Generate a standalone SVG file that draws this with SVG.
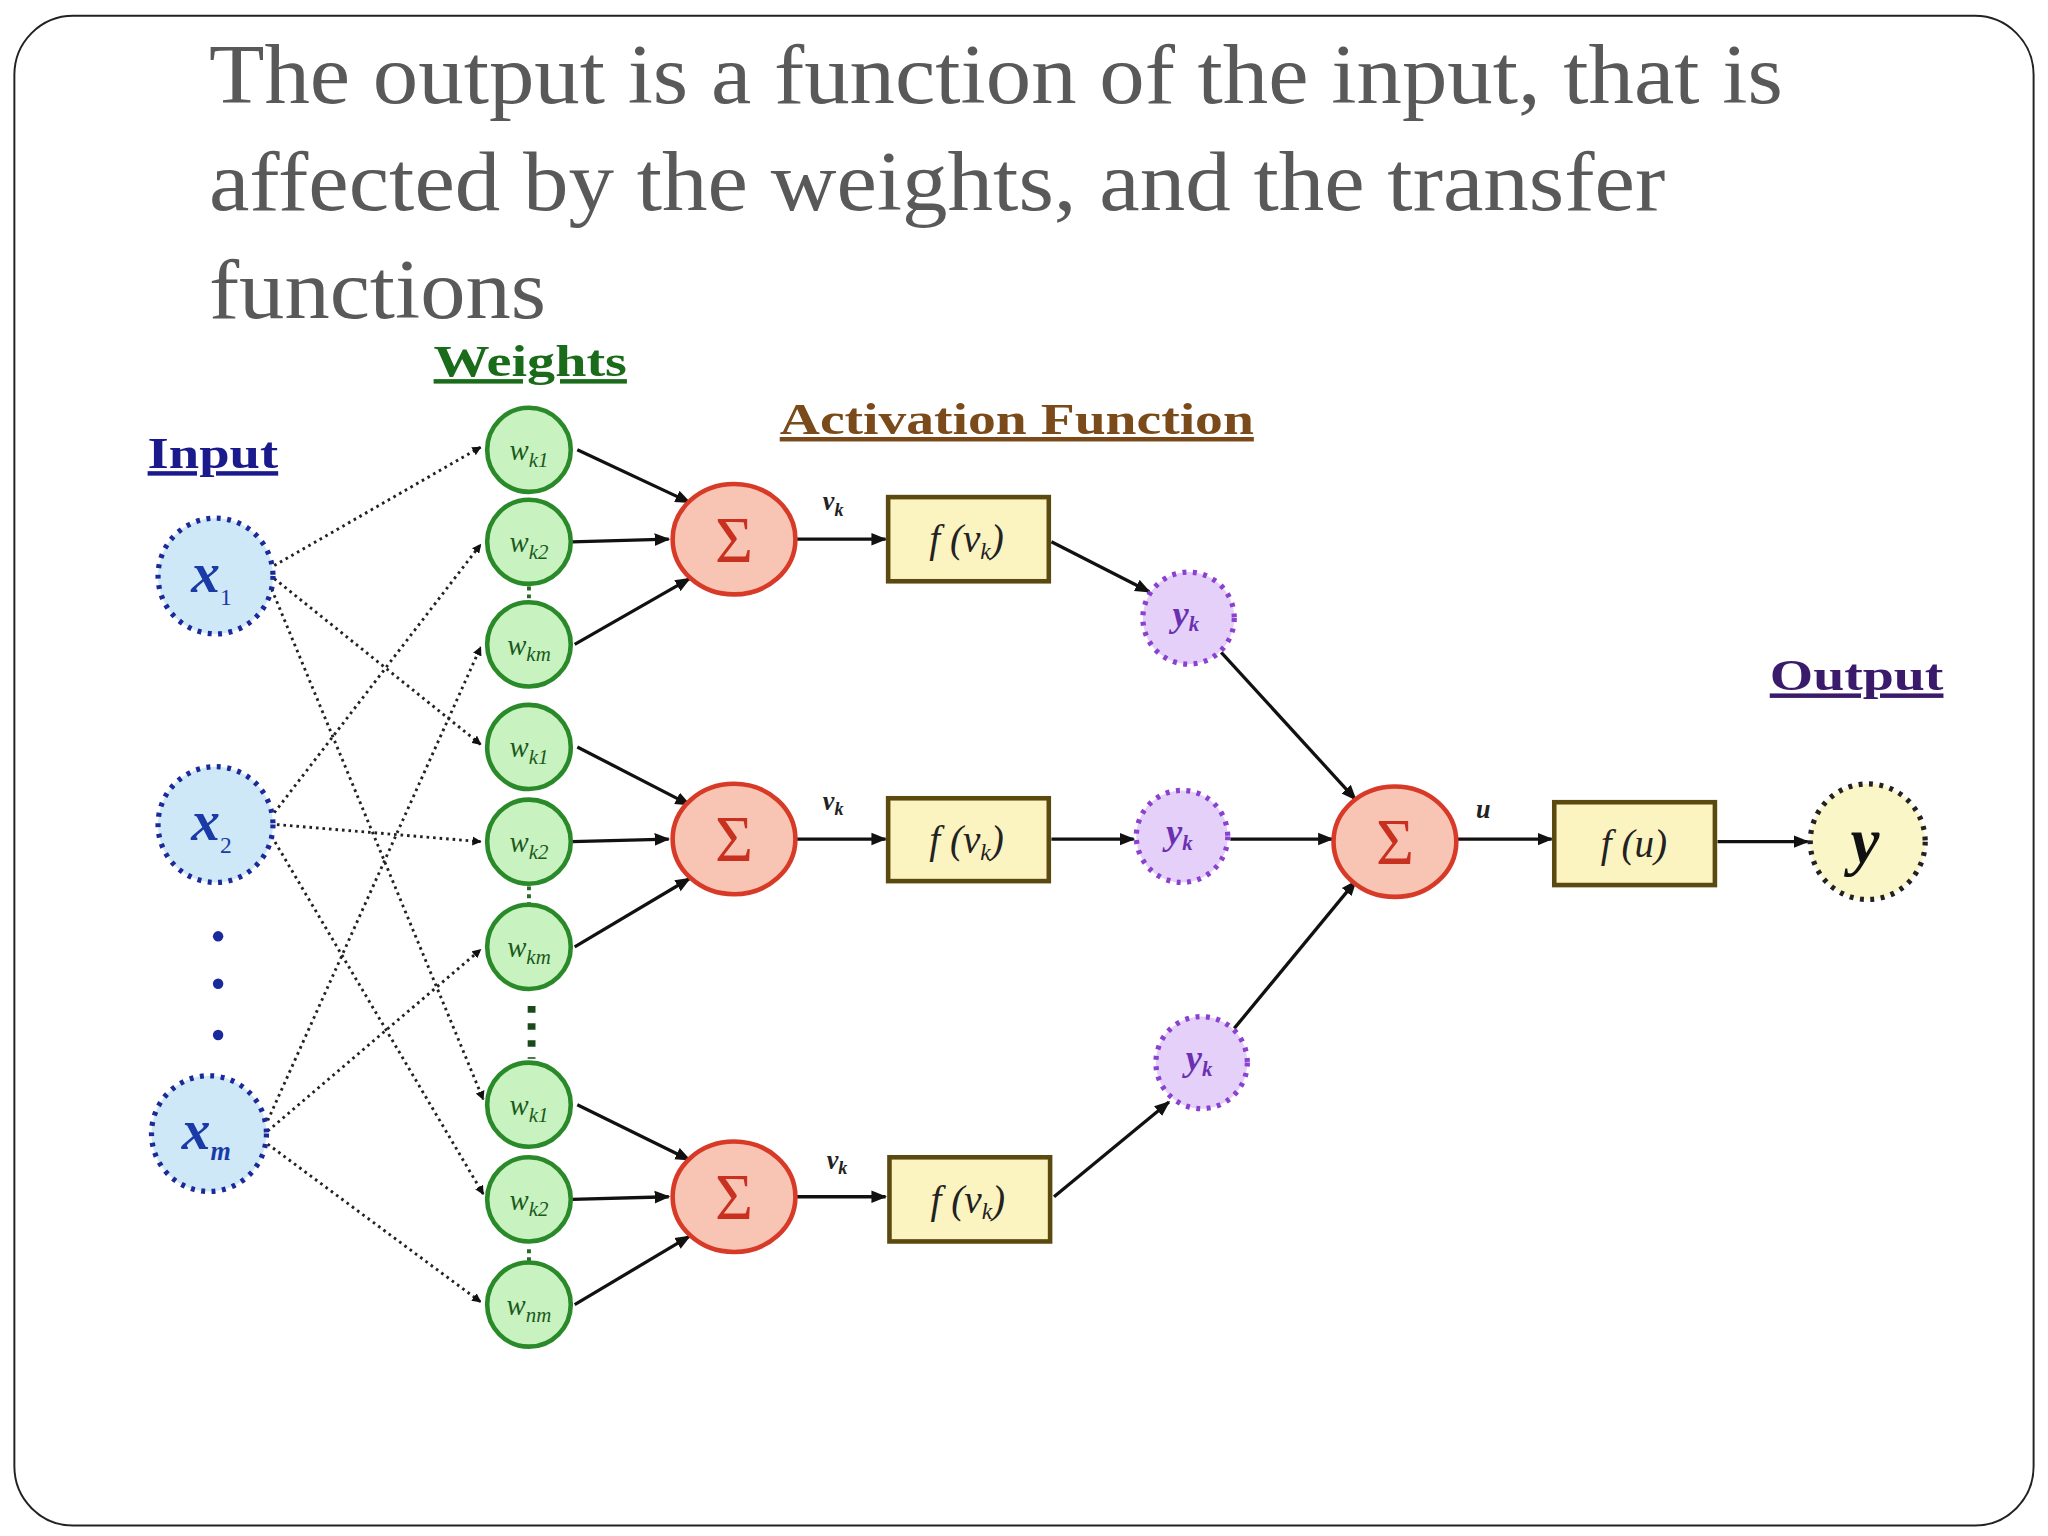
<svg xmlns="http://www.w3.org/2000/svg" width="2048" height="1536" viewBox="0 0 2048 1536">
<defs>
<marker id="ah" viewBox="0 0 10 10" refX="9" refY="5" markerWidth="7" markerHeight="7" orient="auto" markerUnits="userSpaceOnUse"><path d="M0,0 L10,5 L0,10 z" fill="#111"/></marker>
<marker id="ah2" viewBox="0 0 10 10" refX="9" refY="5" markerWidth="12" markerHeight="12" orient="auto" markerUnits="userSpaceOnUse"><path d="M0,1 L10,5 L0,9 z" fill="#111"/></marker>
</defs>
<style>
.title{font-family:"Liberation Serif",serif;font-size:64px;fill:#595959}
.hdr{font-family:"Liberation Serif",serif;font-weight:bold;font-size:34px;text-decoration:underline}
.inp circle{fill:#cfe8f7;stroke:#1a2a9a;stroke-width:4;stroke-dasharray:3 5}
.inp text{font-family:"Liberation Serif",serif;font-style:italic;font-weight:bold;font-size:44px;fill:#1a3aa8;text-anchor:middle}
.w circle{fill:#c8f2c0;stroke:#2a8a2a;stroke-width:3.5}
.w text{font-family:"Liberation Serif",serif;font-style:italic;font-size:22px;fill:#1a5a1a;text-anchor:middle}
.s ellipse{fill:#f8c4b4;stroke:#d83a28;stroke-width:3.5}
.s text{font-family:"Liberation Serif",serif;font-size:50px;fill:#c83020;text-anchor:middle}
.b rect{fill:#fbf3c0;stroke:#5a4a10;stroke-width:3.5}
.b text{font-family:"Liberation Serif",serif;font-style:italic;font-size:30px;fill:#222;text-anchor:middle}
.yk circle{fill:#e4d0f8;stroke:#8a40d0;stroke-width:4;stroke-dasharray:3 5}
.yk text{font-family:"Liberation Serif",serif;font-style:italic;font-weight:bold;font-size:28px;fill:#6a30b0;text-anchor:middle}
.lab{font-family:"Liberation Serif",serif;font-style:italic;font-weight:bold;font-size:20px;fill:#222}
.dl{stroke:#222;stroke-width:2.2;stroke-dasharray:2 3;fill:none}
.sl{stroke:#111;stroke-width:2.5;fill:none}
</style>
<g transform="scale(1.3061,1.3151)">
<rect x="11" y="12" width="1546" height="1148" rx="45" fill="#fff" stroke="#222" stroke-width="1.5"/>
<text class="title" x="160" y="78" textLength="1205" lengthAdjust="spacingAndGlyphs">The output is a function of the input, that is</text>
<text class="title" x="160" y="160" textLength="1115" lengthAdjust="spacingAndGlyphs">affected by the weights, and the transfer</text>
<text class="title" x="160" y="242" textLength="258" lengthAdjust="spacingAndGlyphs">functions</text>
<text class="hdr" x="332" y="286" fill="#1a6b1a" textLength="148" lengthAdjust="spacingAndGlyphs">Weights</text>
<text class="hdr" x="113" y="356" fill="#1a1a8c" textLength="100" lengthAdjust="spacingAndGlyphs">Input</text>
<text class="hdr" x="597" y="330" fill="#7a4a1a" textLength="363" lengthAdjust="spacingAndGlyphs">Activation Function</text>
<text class="hdr" x="1355" y="525" fill="#3a1a6b" textLength="133" lengthAdjust="spacingAndGlyphs">Output</text>

<g id="connectors">
<path class="dl" d="M210,430 L368,340" marker-end="url(#ah)"/>
<path class="dl" d="M210,440 L368,566" marker-end="url(#ah)"/>
<path class="dl" d="M208,448 L370,836" marker-end="url(#ah)"/>
<path class="dl" d="M210,618 L368,414" marker-end="url(#ah)"/>
<path class="dl" d="M212,627 L368,640" marker-end="url(#ah)"/>
<path class="dl" d="M208,636 L370,908" marker-end="url(#ah)"/>
<path class="dl" d="M205,852 L368,492" marker-end="url(#ah)"/>
<path class="dl" d="M205,860 L368,722" marker-end="url(#ah)"/>
<path class="dl" d="M205,870 L368,990" marker-end="url(#ah)"/>
<path class="sl" d="M442,342 L528,382" marker-end="url(#ah2)"/>
<path class="sl" d="M438,412 L512,410" marker-end="url(#ah2)"/>
<path class="sl" d="M440,490 L528,440" marker-end="url(#ah2)"/>
<path class="sl" d="M442,568 L528,612" marker-end="url(#ah2)"/>
<path class="sl" d="M438,640 L512,638" marker-end="url(#ah2)"/>
<path class="sl" d="M440,720 L528,668" marker-end="url(#ah2)"/>
<path class="sl" d="M442,840 L528,882" marker-end="url(#ah2)"/>
<path class="sl" d="M438,912 L512,910" marker-end="url(#ah2)"/>
<path class="sl" d="M440,992 L528,940" marker-end="url(#ah2)"/>
<path class="sl" d="M610,410 L678,410" marker-end="url(#ah2)"/>
<path class="sl" d="M610,638 L678,638" marker-end="url(#ah2)"/>
<path class="sl" d="M610,910 L678,910" marker-end="url(#ah2)"/>
<path class="sl" d="M805,412 L880,450" marker-end="url(#ah2)"/>
<path class="sl" d="M805,638 L868,638" marker-end="url(#ah2)"/>
<path class="sl" d="M807,910 L895,838" marker-end="url(#ah2)"/>
<path class="sl" d="M935,496 L1038,608" marker-end="url(#ah2)"/>
<path class="sl" d="M942,638 L1020,638" marker-end="url(#ah2)"/>
<path class="sl" d="M945,782 L1038,670" marker-end="url(#ah2)"/>
<path class="sl" d="M1116,638 L1188,638" marker-end="url(#ah2)"/>
<path class="sl" d="M1315,640 L1384,640" stroke-width="1.8" marker-end="url(#ah2)"/>
<path d="M405,446 V464 M405,674 V692 M405,950 V968" stroke="#2a6a2a" stroke-width="3" stroke-dasharray="3 3"/>
<path d="M407,765 V805" stroke="#1a4a1a" stroke-width="6" stroke-dasharray="5 8"/>
</g>

<g id="x1" class="inp"><circle cx="165" cy="438" r="44"/><text x="162" y="450">x<tspan font-size="18" dy="10" font-style="normal" font-weight="normal">1</tspan></text></g>
<g id="x2" class="inp"><circle cx="165" cy="627" r="44"/><text x="162" y="639">x<tspan font-size="18" dy="10" font-style="normal" font-weight="normal">2</tspan></text></g>
<g id="dots"><circle cx="167" cy="712" r="4" fill="#1a2a9a"/><circle cx="167" cy="748" r="4" fill="#1a2a9a"/><circle cx="167" cy="787" r="4" fill="#1a2a9a"/></g>
<g id="xm" class="inp"><circle cx="160" cy="862" r="44"/><text x="158" y="874">x<tspan font-size="20" dy="8">m</tspan></text></g>

<g id="w1" class="w"><circle cx="405" cy="342" r="32"/><text x="405" y="350">w<tspan font-size="16" dy="5">k1</tspan></text></g>
<g id="w2" class="w"><circle cx="405" cy="412" r="32"/><text x="405" y="420">w<tspan font-size="16" dy="5">k2</tspan></text></g>
<g id="w3" class="w"><circle cx="405" cy="490" r="32"/><text x="405" y="498">w<tspan font-size="16" dy="5">km</tspan></text></g>
<g id="w4" class="w"><circle cx="405" cy="568" r="32"/><text x="405" y="576">w<tspan font-size="16" dy="5">k1</tspan></text></g>
<g id="w5" class="w"><circle cx="405" cy="640" r="32"/><text x="405" y="648">w<tspan font-size="16" dy="5">k2</tspan></text></g>
<g id="w6" class="w"><circle cx="405" cy="720" r="32"/><text x="405" y="728">w<tspan font-size="16" dy="5">km</tspan></text></g>
<g id="w7" class="w"><circle cx="405" cy="840" r="32"/><text x="405" y="848">w<tspan font-size="16" dy="5">k1</tspan></text></g>
<g id="w8" class="w"><circle cx="405" cy="912" r="32"/><text x="405" y="920">w<tspan font-size="16" dy="5">k2</tspan></text></g>
<g id="w9" class="w"><circle cx="405" cy="992" r="32"/><text x="405" y="1000">w<tspan font-size="16" dy="5">nm</tspan></text></g>

<g id="s1" class="s"><ellipse cx="562" cy="410" rx="47" ry="42"/><text x="562" y="427">Σ</text></g>
<g id="s2" class="s"><ellipse cx="562" cy="638" rx="47" ry="42"/><text x="562" y="655">Σ</text></g>
<g id="s3" class="s"><ellipse cx="562" cy="910" rx="47" ry="42"/><text x="562" y="927">Σ</text></g>
<text class="lab" x="630" y="388">v<tspan font-size="14" dy="4">k</tspan></text>
<text class="lab" x="630" y="616">v<tspan font-size="14" dy="4">k</tspan></text>
<text class="lab" x="633" y="889">v<tspan font-size="14" dy="4">k</tspan></text>

<g id="f1" class="b"><rect x="680" y="378" width="123" height="64"/><text x="740" y="420">f (v<tspan font-size="18" dy="5">k</tspan><tspan dy="-5">)</tspan></text></g>
<g id="f2" class="b"><rect x="680" y="607" width="123" height="63"/><text x="740" y="649">f (v<tspan font-size="18" dy="5">k</tspan><tspan dy="-5">)</tspan></text></g>
<g id="f3" class="b"><rect x="681" y="880" width="123" height="64"/><text x="741" y="922">f (v<tspan font-size="18" dy="5">k</tspan><tspan dy="-5">)</tspan></text></g>

<g id="y1" class="yk"><circle cx="910" cy="470" r="35"/><text x="908" y="476">y<tspan font-size="16" dy="4">k</tspan></text></g>
<g id="y2" class="yk"><circle cx="905" cy="636" r="35"/><text x="903" y="642">y<tspan font-size="16" dy="4">k</tspan></text></g>
<g id="y3" class="yk"><circle cx="920" cy="808" r="35"/><text x="918" y="814">y<tspan font-size="16" dy="4">k</tspan></text></g>

<g id="s4" class="s"><ellipse cx="1068" cy="640" rx="47" ry="42"/><text x="1068" y="657">Σ</text></g>
<text class="lab" x="1130" y="622">u</text>
<g id="fu" class="b"><rect x="1190" y="610" width="123" height="63"/><text x="1251" y="652">f (u)</text></g>
<g id="y" class="inp"><circle cx="1430" cy="640" r="44" style="fill:#fbf6c8;stroke:#222"/><text x="1428" y="656" style="fill:#111;font-size:50px">y</text></g>
</g>
</svg>
